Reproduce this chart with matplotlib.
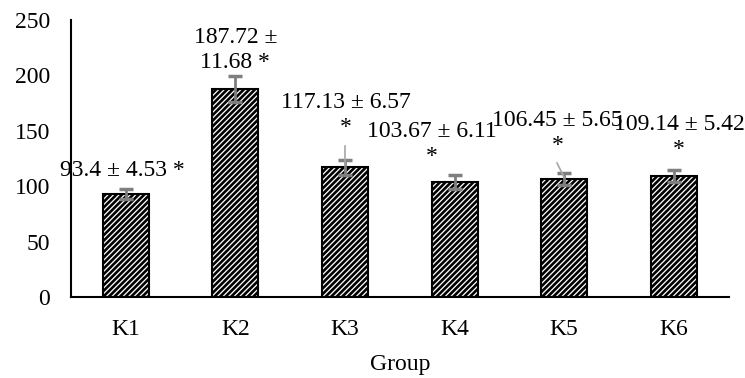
import matplotlib
matplotlib.use("Agg")
import matplotlib.pyplot as plt

# data
groups = ["K1", "K2", "K3", "K4", "K5", "K6"]
means = [93.4, 187.72, 117.13, 103.67, 106.45, 109.14]
errors = [4.53, 11.68, 6.57, 6.11, 5.65, 5.42]
labels = ["93.4 ± 4.53 *", "187.72 ±\n11.68 *", "117.13 ± 6.57\n*",
          "103.67 ± 6.11\n*", "106.45 ± 5.65\n*", "109.14 ± 5.42\n*"]

# label placement (data coords, centre of text)
label_x = [-0.03, 1.0, 2.01, 2.79, 3.94, 5.05]
label_y = [114.5, 223.0, 164.0, 138.5, 148.0, 144.5]

plt.rcParams["font.family"] = ["Liberation Serif", "DejaVu Serif"]
plt.rcParams["hatch.linewidth"] = 1.9

fig = plt.figure(figsize=(7.45, 3.78), dpi=100)
ax = fig.add_axes([0.0953, 0.214, 0.8826, 0.733])

x = range(len(groups))
ax.bar(x, means, width=0.42, color="white", edgecolor="black",
       linewidth=1.5, hatch="//////", zorder=2)
ax.errorbar(x, means, yerr=errors, fmt="none", ecolor="#7f7f7f",
            elinewidth=2, capsize=5, capthick=2.5, zorder=3)

for i, txt in enumerate(labels):
    ax.text(label_x[i], label_y[i], txt, ha="center", va="center",
            fontsize=17, linespacing=1.25, zorder=4)

# leader lines from labels to bars
ax.plot([2.0, 2.0], [136, 119], color="#a6a6a6", lw=1.2, zorder=4)
ax.plot([3.935, 4.0], [121, 108], color="#a6a6a6", lw=1.2, zorder=4)

ax.set_xlim(-0.5, 5.5)
ax.set_ylim(0, 250)
ax.set_yticks([0, 50, 100, 150, 200, 250])
ax.set_xticks(list(x))
ax.set_xticklabels(groups)
ax.tick_params(axis="both", length=0, labelsize=17)
ax.tick_params(axis="y", pad=15)
ax.tick_params(axis="x", pad=16)
ax.set_xlabel("Group", fontsize=17, labelpad=10)

for s in ["top", "right"]:
    ax.spines[s].set_visible(False)
ax.spines["left"].set_linewidth(1.5)
ax.spines["bottom"].set_linewidth(1.5)

fig.savefig("out.png", dpi=100)
